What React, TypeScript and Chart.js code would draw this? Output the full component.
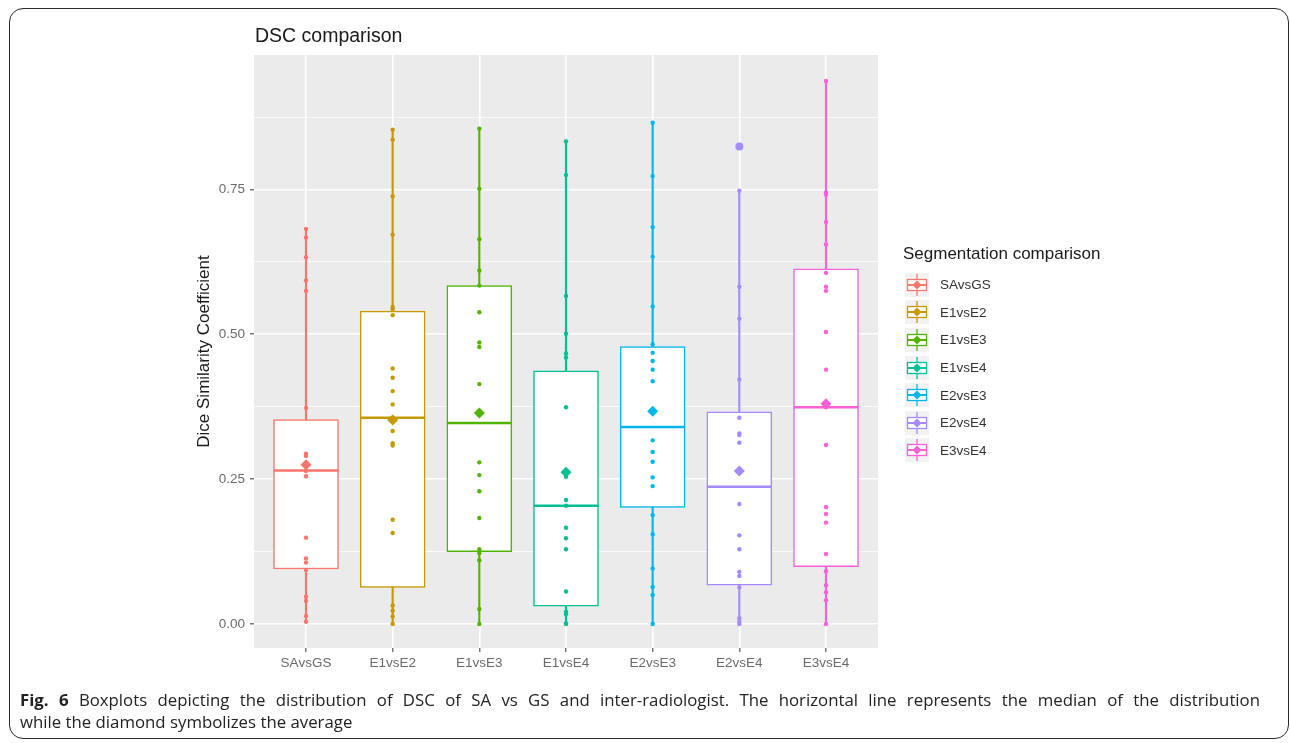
import React, { useEffect, useRef } from "react";
import { Chart, registerables } from "chart.js";

Chart.register(...registerables);

const CATEGORIES = ["SAvsGS", "E1vsE2", "E1vsE3", "E1vsE4", "E2vsE3", "E2vsE4", "E3vsE4"];
const COLORS = ["#F8766D", "#C49A00", "#53B400", "#00C094", "#00B6EB", "#A58AFF", "#FB61D7"];

const Q1 = [0.095, 0.063, 0.125, 0.031, 0.201, 0.067, 0.099];
const MEDIAN = [0.265, 0.356, 0.347, 0.204, 0.34, 0.237, 0.374];
const Q3 = [0.353, 0.54, 0.584, 0.437, 0.479, 0.366, 0.613];
const MEAN = [0.275, 0.352, 0.364, 0.262, 0.367, 0.264, 0.38];
const WHISKER_LOW = [0.004, 0.0, 0.0, 0.0, 0.0, 0.0, 0.0];
const WHISKER_HIGH = [0.682, 0.853, 0.855, 0.833, 0.865, 0.748, 0.937];

const POINTS_SAvsGS = [0.682, 0.667, 0.633, 0.593, 0.575, 0.373, 0.294, 0.29, 0.272, 0.264, 0.255, 0.149, 0.113, 0.106, 0.093, 0.047, 0.04, 0.014, 0.004];
const POINTS_E1vsE2 = [0.853, 0.836, 0.738, 0.672, 0.547, 0.543, 0.533, 0.441, 0.425, 0.402, 0.379, 0.356, 0.333, 0.312, 0.308, 0.18, 0.157, 0.032, 0.023, 0.013, 0.0];
const POINTS_E1vsE3 = [0.855, 0.751, 0.664, 0.61, 0.584, 0.538, 0.486, 0.478, 0.414, 0.279, 0.257, 0.229, 0.183, 0.129, 0.122, 0.11, 0.026, 0.0];
const POINTS_E1vsE4 = [0.833, 0.775, 0.566, 0.501, 0.467, 0.46, 0.374, 0.254, 0.214, 0.204, 0.166, 0.148, 0.129, 0.056, 0.021, 0.017, 0.001, 0.0];
const POINTS_E2vsE3 = [0.865, 0.773, 0.685, 0.634, 0.548, 0.483, 0.468, 0.454, 0.439, 0.419, 0.317, 0.297, 0.28, 0.253, 0.238, 0.188, 0.155, 0.096, 0.064, 0.05, 0.0];
const POINTS_E2vsE4 = [0.824, 0.748, 0.582, 0.527, 0.422, 0.356, 0.329, 0.326, 0.313, 0.207, 0.153, 0.129, 0.09, 0.083, 0.063, 0.01, 0.004, 0.0];
const POINTS_E3vsE4 = [0.937, 0.745, 0.741, 0.694, 0.655, 0.606, 0.582, 0.575, 0.504, 0.439, 0.374, 0.309, 0.202, 0.19, 0.175, 0.121, 0.091, 0.067, 0.055, 0.041, 0.0];
const POINTS = [POINTS_SAvsGS, POINTS_E1vsE2, POINTS_E1vsE3, POINTS_E1vsE4, POINTS_E2vsE3, POINTS_E2vsE4, POINTS_E3vsE4];
const OUTLIERS = [[], [], [], [], [], [0.824], []];

const Y_MAJOR_TICKS = [0, 0.25, 0.5, 0.75];
const Y_MINOR_TICKS = [0.125, 0.375, 0.625, 0.875];

const TITLE = "DSC comparison";
const Y_TITLE = "Dice Similarity Coefficient";
const LEGEND_TITLE = "Segmentation comparison";
const CAPTION_LINE_1 = "Boxplots depicting the distribution of DSC of SA vs GS and inter-radiologist. The horizontal line represents the median of the distribution";
const CAPTION_LINE_2 = "while the diamond symbolizes the average";

const panelBg = {
  id: "panelBg",
  beforeDraw(chart: any) {
    const { ctx, chartArea } = chart;
    ctx.save();
    ctx.fillStyle = "#EBEBEB";
    ctx.fillRect(chartArea.left, chartArea.top, chartArea.right - chartArea.left, chartArea.bottom - chartArea.top);
    ctx.restore();
  },
};

function LegendKey({ color }: { color: string }) {
  return (
    <svg width="24" height="24" style={{ display: "block" }}>
      <rect x="0" y="0" width="24" height="24" fill="#F2F2F2" />
      <line x1="12" y1="1" x2="12" y2="23" stroke={color} strokeWidth="1.3" />
      <rect x="2.5" y="6.5" width="19" height="11" fill="#fff" stroke={color} strokeWidth="1.3" />
      <line x1="2.5" y1="12" x2="21.5" y2="12" stroke={color} strokeWidth="2" />
      <polygon points="12,7.5 16.5,12 12,16.5 7.5,12" fill={color} />
    </svg>
  );
}

export default function App() {
  const canvasRef = useRef<HTMLCanvasElement | null>(null);

  useEffect(() => {
    document.body.style.overflow = "hidden";
    const canvas = canvasRef.current;
    if (!canvas) return;

    const idx = CATEGORIES.map((_, i) => i);
    const datasets: any[] = [];

    datasets.push({
      type: "bar",
      data: idx.map((i) => ({ x: i, y: [WHISKER_LOW[i], WHISKER_HIGH[i]] })),
      backgroundColor: COLORS,
      borderWidth: 0,
      barThickness: 1.5,
      grouped: false,
      order: 10,
    });
    datasets.push({
      type: "bar",
      data: idx.map((i) => ({ x: i, y: [Q1[i], Q3[i]] })),
      backgroundColor: "#FFFFFF",
      borderColor: COLORS,
      borderWidth: 1.5,
      borderSkipped: false,
      barThickness: 65,
      grouped: false,
      order: 9,
    });
    idx.forEach((i) => {
      datasets.push({
        type: "scatter",
        data: POINTS[i].map((v) => ({ x: i, y: v })),
        pointRadius: 2.2,
        pointBackgroundColor: COLORS[i],
        pointBorderWidth: 0,
        order: 5,
      });
      if (OUTLIERS[i].length) {
        datasets.push({
          type: "scatter",
          data: OUTLIERS[i].map((v) => ({ x: i, y: v })),
          pointRadius: 4,
          pointBackgroundColor: COLORS[i],
          pointBorderWidth: 0,
          order: 4,
        });
      }
    });
    datasets.push({
      type: "scatter",
      data: idx.map((i) => ({ x: i, y: MEDIAN[i] })),
      pointStyle: "line",
      pointRadius: 32.5,
      pointBorderColor: COLORS,
      pointBorderWidth: 2.5,
      order: 2,
    });
    datasets.push({
      type: "scatter",
      data: idx.map((i) => ({ x: i, y: MEAN[i] })),
      pointStyle: "rectRot",
      pointRadius: 5.5,
      pointBackgroundColor: COLORS,
      pointBorderWidth: 0,
      order: 1,
    });

    const allY = [...Y_MAJOR_TICKS, ...Y_MINOR_TICKS].sort((a, b) => a - b);
    const isMajor = (v: number) => Y_MAJOR_TICKS.some((m) => Math.abs(m - v) < 1e-9);

    const chart = new Chart(canvas, {
      type: "bar",
      data: { datasets },
      plugins: [panelBg],
      options: {
        animation: false,
        responsive: true,
        maintainAspectRatio: false,
        layout: { padding: { left: 194, right: 412, top: 55, bottom: 0 } },
        plugins: { legend: { display: false }, tooltip: { enabled: false }, title: { display: false } },
        scales: {
          x: {
            type: "linear",
            min: -0.6,
            max: 6.6,
            offset: false,
            afterBuildTicks: (axis: any) => {
              axis.ticks = CATEGORIES.map((_, i) => ({ value: i }));
            },
            afterFit: (axis: any) => {
              axis.height = 42;
            },
            ticks: {
              autoSkip: false,
              maxRotation: 0,
              padding: 3,
              color: "#6A6A6A",
              font: { family: "'Liberation Sans', Arial, sans-serif", size: 13.5 },
              callback: (v: any) => CATEGORIES[Math.round(Number(v))] ?? "",
            },
            grid: {
              offset: false,
              color: "#FFFFFF",
              lineWidth: 1.6,
              drawTicks: true,
              tickLength: 4,
              tickColor: "#555555",
              tickWidth: 1.2,
            },
            border: { display: false },
          },
          y: {
            type: "linear",
            min: -0.0414,
            max: 0.982,
            afterBuildTicks: (axis: any) => {
              axis.ticks = allY.map((v) => ({ value: v }));
            },
            afterFit: (axis: any) => {
              axis.width = 60;
            },
            ticks: {
              autoSkip: false,
              padding: 5,
              color: "#6A6A6A",
              font: { family: "'Liberation Sans', Arial, sans-serif", size: 13.5 },
              callback: (v: any) => (isMajor(Number(v)) ? Number(v).toFixed(2) : ""),
            },
            grid: {
              color: "#FFFFFF",
              lineWidth: (c: any) => (c.tick && isMajor(c.tick.value) ? 1.6 : 0.8),
              drawTicks: true,
              tickLength: 4,
              tickColor: (c: any) => (c.tick && isMajor(c.tick.value) ? "#555555" : "rgba(0,0,0,0)"),
              tickWidth: 1.2,
            },
            border: { display: false },
            title: {
              display: true,
              text: Y_TITLE,
              color: "#1A1A1A",
              padding: 0,
              font: { family: "'Liberation Sans', Arial, sans-serif", size: 17 },
            },
          },
        },
      } as any,
    });
    return () => chart.destroy();
  }, []);

  const sans = "'Liberation Sans', Arial, sans-serif";
  const captionFont = "'Open Sans', 'Noto Sans', sans-serif";

  return (
    <div style={{ position: "fixed", left: 0, top: 0, width: 1290, height: 743, overflow: "hidden", background: "#fff" }}>
      <div
        style={{
          position: "absolute",
          left: 9,
          top: 8,
          width: 1280,
          height: 731,
          boxSizing: "border-box",
          border: "1.5px solid #2a2a2a",
          borderRadius: 14,
        }}
      />
      <div style={{ position: "absolute", left: 0, top: 0, width: 1290, height: 690 }}>
        <canvas ref={canvasRef} />
      </div>
      <div
        style={{
          position: "absolute",
          left: 255,
          top: 24,
          fontFamily: sans,
          fontSize: 19.5,
          color: "#1A1A1A",
          whiteSpace: "nowrap",
        }}
      >
        {TITLE}
      </div>
      <div style={{ position: "absolute", left: 903, top: 244, fontFamily: sans, color: "#1A1A1A" }}>
        <div style={{ fontSize: 17, lineHeight: "20px", whiteSpace: "nowrap" }}>{LEGEND_TITLE}</div>
        <div style={{ marginTop: 7 }}>
          {CATEGORIES.map((c, i) => (
            <div key={c} style={{ display: "flex", alignItems: "center", height: 27.6 }}>
              <div style={{ marginLeft: 2 }}>
                <LegendKey color={COLORS[i]} />
              </div>
              <span style={{ marginLeft: 11, fontSize: 13.5, color: "#333" }}>{c}</span>
            </div>
          ))}
        </div>
      </div>
      <div
        style={{
          position: "absolute",
          left: 20,
          top: 689,
          width: 1240,
          fontFamily: captionFont,
          fontSize: 16.8,
          lineHeight: "22px",
          color: "#222",
        }}
      >
        <div style={{ textAlign: "justify", textAlignLast: "justify", whiteSpace: "nowrap" as any }}>
          <span style={{ fontWeight: 700 }}>Fig. 6</span> {CAPTION_LINE_1}
        </div>
        <div>{CAPTION_LINE_2}</div>
      </div>
    </div>
  );
}
